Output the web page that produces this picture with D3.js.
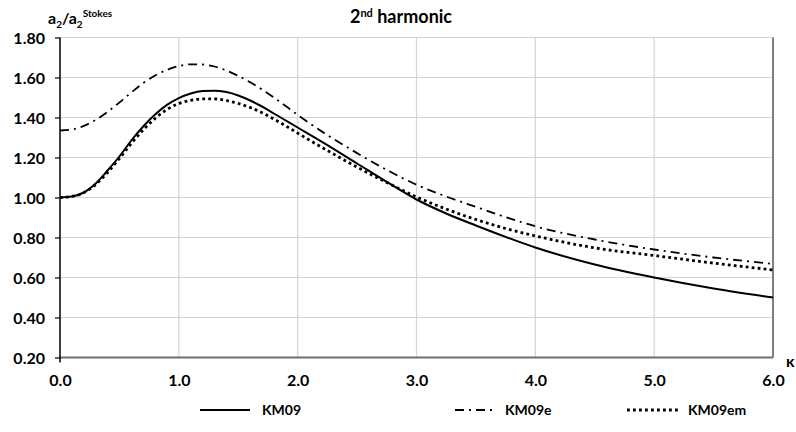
<!DOCTYPE html>
<html>
<head>
<meta charset="utf-8">
<script src="https://cdn.jsdelivr.net/npm/d3@7"></script>
<style>
  html, body { margin: 0; padding: 0; background: #fff; }
  svg { display: block; }
  text { font-family: Lato, "Open Sans", "Liberation Sans", sans-serif; font-weight: 700; fill: #000; }
</style>
</head>
<body>
<svg id="chart" width="796" height="432"></svg>
<script>
// Wave number kappa
const kappa = [0, 0.1, 0.2, 0.3, 0.4, 0.5, 0.6, 0.7, 0.8, 0.9, 1.0, 1.1, 1.2, 1.3, 1.4, 1.5,
               1.6, 1.7, 1.8, 1.9, 2.0, 2.25, 2.5, 2.75, 3.0, 3.25, 3.5, 3.75, 4.0, 4.5, 5.0, 5.5, 6.0];

// Second-harmonic amplitude ratio a2 / a2(Stokes)
const km09 = [1.000, 1.005, 1.025, 1.070, 1.135, 1.205, 1.285, 1.355, 1.415, 1.463, 1.497, 1.520,
              1.532, 1.534, 1.527, 1.510, 1.485, 1.455, 1.420, 1.385, 1.350, 1.262, 1.170, 1.078,
              0.990, 0.920, 0.860, 0.803, 0.750, 0.665, 0.600, 0.545, 0.500];
const km09e = [1.335, 1.340, 1.358, 1.388, 1.428, 1.475, 1.525, 1.572, 1.610, 1.638, 1.657, 1.666,
               1.665, 1.655, 1.635, 1.608, 1.576, 1.540, 1.500, 1.457, 1.413, 1.312, 1.222, 1.138,
               1.064, 1.005, 0.953, 0.902, 0.856, 0.790, 0.740, 0.700, 0.668];
const km09em = [1.000, 1.005, 1.024, 1.065, 1.125, 1.195, 1.270, 1.338, 1.395, 1.440, 1.470, 1.486,
                1.493, 1.493, 1.485, 1.470, 1.450, 1.424, 1.392, 1.358, 1.322, 1.235, 1.152, 1.075,
                1.003, 0.942, 0.890, 0.845, 0.808, 0.748, 0.710, 0.672, 0.638];

const xTicks = [0, 1, 2, 3, 4, 5, 6];
const yTicks = [0.2, 0.4, 0.6, 0.8, 1.0, 1.2, 1.4, 1.6, 1.8];
const seriesNames = ["KM09", "KM09e", "KM09em"];

const svg = d3.select("#chart");
const x = d3.scaleLinear().domain([0, 6]).range([60, 773]);
const y = d3.scaleLinear().domain([0.2, 1.8]).range([357.5, 37.5]);

// Gridlines
const grid = svg.append("g");
grid.selectAll("line.h").data(yTicks.filter(v => v > 0.2)).enter().append("line")
  .attr("x1", x(0)).attr("x2", x(6))
  .attr("y1", d => y(d)).attr("y2", d => y(d))
  .attr("stroke", "#d4d4d4").attr("stroke-width", 1.2);
grid.selectAll("line.v").data(xTicks.filter(v => v > 0 && v < 6)).enter().append("line")
  .attr("x1", d => x(d)).attr("x2", d => x(d))
  .attr("y1", y(1.8)).attr("y2", y(0.2))
  .attr("stroke", "#d4d4d4").attr("stroke-width", 1.2);

// Frame: right border and bottom axis line
svg.append("line").attr("x1", x(6)).attr("x2", x(6)).attr("y1", y(1.8)).attr("y2", y(0.2))
  .attr("stroke", "#7f7f7f").attr("stroke-width", 2);
svg.append("line").attr("x1", x(0)).attr("x2", x(6)).attr("y1", y(0.2)).attr("y2", y(0.2))
  .attr("stroke", "#6f6f6f").attr("stroke-width", 2);

// Y axis
const yAxis = d3.axisLeft(y).tickValues(yTicks).tickFormat(d3.format(".2f")).tickSize(5).tickPadding(10);
const ya = svg.append("g").attr("transform", `translate(${x(0)},0)`).call(yAxis);
ya.select(".domain").remove();
ya.selectAll(".tick line").attr("stroke", "#000").attr("stroke-width", 1.2);
ya.selectAll(".tick text").style("font-size", "16px").attr("dy", "0.35em")
  .style("font-family", "Lato, sans-serif").style("font-weight", 700);
svg.append("line").attr("x1", x(0)).attr("x2", x(0)).attr("y1", y(1.8)).attr("y2", y(0.2) + 5)
  .attr("stroke", "#000").attr("stroke-width", 1.5);

// X axis labels
const xAxis = d3.axisBottom(x).tickValues(xTicks).tickFormat(d3.format(".1f")).tickSize(0).tickPadding(17);
const xa = svg.append("g").attr("transform", `translate(0,${y(0.2)})`).call(xAxis);
xa.select(".domain").remove();
xa.selectAll(".tick text").style("font-size", "16px")
  .style("font-family", "Lato, sans-serif").style("font-weight", 700);

// Curves
const styles = [
  { data: km09,   width: 2,    dash: null },
  { data: km09e,  width: 1.8,  dash: "9,5,2,5" },
  { data: km09em, width: 2.8,  dash: "2.8,3.2" }
];
const line = d3.line().x(d => x(d[0])).y(d => y(d[1])).curve(d3.curveMonotoneX);
styles.forEach(s => {
  svg.append("path")
    .datum(kappa.map((k, i) => [k, s.data[i]]))
    .attr("d", line)
    .attr("fill", "none")
    .attr("stroke", "#000")
    .attr("stroke-width", s.width)
    .attr("stroke-dasharray", s.dash);
});

// Title
const title = svg.append("text").attr("x", 401).attr("y", 23).attr("text-anchor", "middle")
  .style("font-size", "18px");
title.append("tspan").text("2");
title.append("tspan").attr("dy", -6).style("font-size", "11px").text("nd");
title.append("tspan").attr("dy", 6).text(" harmonic");

// Y axis title
const yt = svg.append("text").attr("x", 48).attr("y", 24).style("font-size", "16px");
yt.append("tspan").text("a");
yt.append("tspan").attr("dy", 4).style("font-size", "10px").text("2");
yt.append("tspan").attr("dy", -4).text("/a");
yt.append("tspan").attr("dy", 4).style("font-size", "10px").text("2");
yt.append("tspan").attr("dy", -11).style("font-size", "10px").text("Stokes");

// Axis variable
svg.append("text").attr("x", 786).attr("y", 367).style("font-size", "16px").text("κ");

// Legend
const legendX = [200, 455, 627];
const legendY = 410;
seriesNames.forEach((name, i) => {
  const s = styles[i];
  svg.append("line")
    .attr("x1", legendX[i]).attr("x2", legendX[i] + (i === 0 ? 50 : i === 1 ? 42 : 53))
    .attr("y1", legendY).attr("y2", legendY)
    .attr("stroke", "#000").attr("stroke-width", s.width).attr("stroke-dasharray", s.dash);
  svg.append("text")
    .attr("x", legendX[i] + (i === 0 ? 62 : i === 1 ? 50 : 61))
    .attr("y", legendY).attr("dy", "0.35em")
    .style("font-size", "14px").text(name);
});
</script>
</body>
</html>
